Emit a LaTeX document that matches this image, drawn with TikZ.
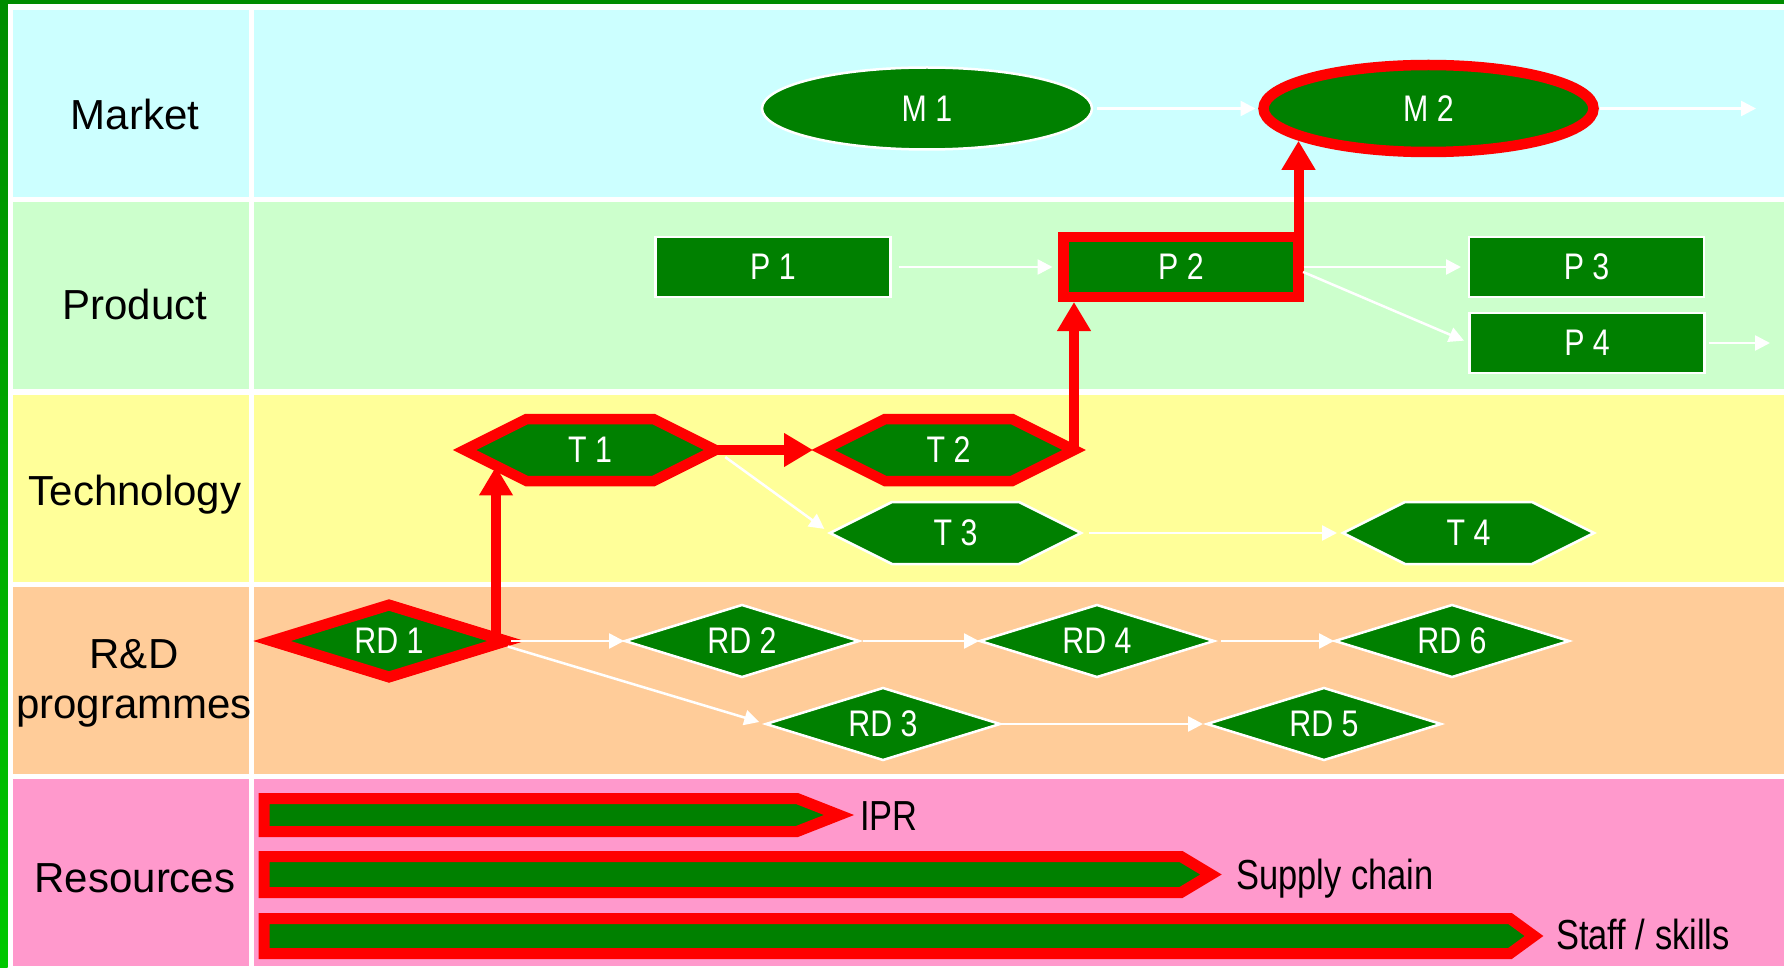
\documentclass[tikz,border=0pt]{standalone}
\usepackage{fontspec}
\setmainfont{Liberation Sans}
\newfontfamily\narrowfont[FakeStretch=0.82]{Liberation Sans}
\usetikzlibrary{shapes.geometric,arrows.meta,calc}
\definecolor{cyanbg}{HTML}{CCFFFF}
\definecolor{prodbg}{HTML}{CCFFCC}
\definecolor{techbg}{HTML}{FFFF99}
\definecolor{rdbg}{HTML}{FFCC99}
\definecolor{resbg}{HTML}{FF99CC}
\definecolor{ngreen}{HTML}{008000}
\definecolor{frameA}{HTML}{008C00}
\definecolor{frameB}{HTML}{00C800}
\newcommand{\mynfont}{\narrowfont\fontsize{37}{40}\selectfont}
\newcommand{\myrdfont}{\narrowfont\fontsize{37}{40}\selectfont}
\newcommand{\mylfont}{\fontsize{42}{50}\selectfont}
\newcommand{\myresfont}{\narrowfont\fontsize{42}{48}\selectfont}
\pgfdeclarelayer{cells}
\pgfdeclarelayer{shapes}
\pgfsetlayers{cells,shapes,main}
\begin{document}
\begin{tikzpicture}[x=1pt,y=-1pt,
  nd/.style={text=white, font=\mynfont, inner sep=0pt, outer sep=0pt},
  wbord/.style={draw=white, line width=2.5pt, fill=ngreen},
  rbord/.style={draw=red, line width=10.5pt, fill=ngreen, line join=miter},
  ell/.style={nd, ellipse, minimum width=330pt},
  pbox/.style={nd, rectangle, minimum width=235pt, minimum height=60pt},
  hexbox/.style={nd, rectangle, minimum width=251pt, minimum height=62pt},
  rdbox/.style={nd, diamond, aspect=3.2, minimum width=234pt, minimum height=72pt, font=\myrdfont},
  warrow/.style={draw=white, line width=2.5pt, -{Triangle[length=15pt,width=15pt]}},
  rarrow/.style={draw=red, line width=10pt, -{Triangle[length=29pt,width=32pt]}},
  collabel/.style={font=\mylfont, inner sep=0pt, anchor=base},
  reslabel/.style={font=\myresfont, inner sep=0pt, anchor=base west},
  resbar/.style={draw=red, line width=11pt, fill=ngreen, line join=miter},
]
\useasboundingbox (0,0) rectangle (1784,968);

% ---------- background grid ----------
\begin{pgfonlayer}{cells}
  \fill[white] (0,0) rectangle (1784,968);
  \foreach \t/\c in {10/cyanbg,202/prodbg,395/techbg,587/rdbg,779/resbg}{
    \fill[\c] (13,\t) rectangle (249,\t+187);
    \fill[\c] (254,\t) rectangle (1784,\t+187);
  }
  \fill[frameA] (0,0) rectangle (1784,4);
  \shade[top color=frameA, bottom color=frameB] (0,0) rectangle (7.5,968);
\end{pgfonlayer}

% ---------- row labels ----------
\node[collabel] (lmarket) at (135,130) {Market};
\node[collabel] (lproduct) at (135,319) {Product};
\node[collabel] (ltech) at (135,505) {Technology};
\node[font=\mylfont, inner sep=0pt, anchor=north, align=center] (lrd) at (134,639.5) {R\&D\\programmes};
\node[collabel] (lres) at (135,892) {Resources};

% ---------- market ----------
\node[ell, wbord, minimum height=82pt] (m1) at (927,108.5) {M 1};
\node[ell, rbord, minimum height=87pt] (m2) at (1428.5,108.5) {M 2};
\coordinate (mout) at (1756,108.5);

% ---------- product ----------
\node[pbox, wbord] (p1) at (773,267) {P 1};
\node[pbox, rbord] (p2) at (1181,267) {P 2};
\node[pbox, wbord] (p3) at (1586.5,267) {P 3};
\node[pbox, wbord] (p4) at (1587,343) {P 4};
\coordinate (pout) at (1770,343);

% ---------- technology ----------
\node[hexbox] (t1) at (590,450) {T 1};
\node[hexbox] (t2) at (948.5,450) {T 2};
\node[hexbox] (t3) at (955.5,533) {T 3};
\node[hexbox] (t4) at (1468.5,533) {T 4};
\begin{pgfonlayer}{shapes}
  \foreach \n/\s in {t1/rbord,t2/rbord,t3/wbord,t4/wbord}{
    \draw[\s, line join=miter] (\n.west) -- ([xshift=62pt]\n.north west) -- ([xshift=-62pt]\n.north east)
      -- (\n.east) -- ([xshift=-62pt]\n.south east) -- ([xshift=62pt]\n.south west) -- cycle;
  }
\end{pgfonlayer}
\coordinate (t1sw) at ([xshift=62pt]t1.south west);
\coordinate (t1hit) at ($(t1.west)!0.53!(t1sw)$);

% ---------- R&D ----------
\node[rdbox, draw=red, line width=11pt, fill=ngreen, line join=miter] (rd1) at (389,641) {RD 1};
\node[rdbox, wbord] (rd2) at (742,641) {RD 2};
\node[rdbox, wbord] (rd4) at (1097,641) {RD 4};
\node[rdbox, wbord] (rd6) at (1452,641) {RD 6};
\node[rdbox, wbord] (rd3) at (883,724) {RD 3};
\node[rdbox, wbord] (rd5) at (1324,724) {RD 5};

% ---------- white connectors ----------
\draw[warrow, shorten <=5pt, shorten >=8pt] (m1.east) -- (m2.west);
\draw[warrow, shorten <=6pt] (m2.east) -- (mout);
\draw[warrow, shorten <=8pt, shorten >=11pt] (p1.east) -- (p2.west);
\draw[warrow, shorten <=5pt, shorten >=8pt] (p2.east) -- (p3.west);
\draw[warrow, shorten <=5pt, shorten >=6pt] ([yshift=-3pt]p2.east) -- (p4.west);
\draw[warrow, shorten <=4pt] (p4.east) -- (pout);
\draw[warrow, shorten <=12pt, shorten >=7pt] (t1.east) -- (t3.west);
\draw[warrow, shorten <=8pt, shorten >=6pt] (t3.east) -- (t4.west);
\draw[warrow, shorten <=5pt, shorten >=1pt] (rd1.east) -- (rd2.west);
\draw[warrow, shorten <=2pt, shorten >=7pt] ([yshift=-5pt]rd1.east) -- (rd3.west);
\draw[warrow, shorten <=4pt, shorten >=1pt] (rd2.east) -- (rd4.west);
\draw[warrow, shorten <=7pt, shorten >=1pt] (rd4.east) -- (rd6.west);
\draw[warrow, shorten <=2pt, shorten >=4pt] (rd3.east) -- (rd5.west);

% ---------- red critical path ----------
\draw[rarrow] ([xshift=-10pt]rd1.east) -- ([xshift=-10pt]rd1.east |- t1hit);
\draw[rarrow, shorten >=10pt] (t1.east) -- (t2.west);
\draw[rarrow, shorten >=5pt] (t2.east) -- (t2.east |- p2.south);
\draw[rarrow, shorten >=5pt] (p2.north east) -- (p2.north east |- m2.192);

% ---------- resources ----------
\draw[resbar] (264,798.5) -- (797,798.5) -- (839,815) -- (797,831.5) -- (264,831.5) -- cycle;
\draw[resbar] (264,856.5) -- (1181,856.5) -- (1211,874.5) -- (1181,892.5) -- (264,892.5) -- cycle;
\draw[resbar] (264,918.5) -- (1510,918.5) -- (1534,936) -- (1510,953.5) -- (264,953.5) -- cycle;
\node[reslabel] (ipr) at (860,830) {IPR};
\node[reslabel] (supply) at (1236,889) {Supply chain};
\node[reslabel] (staff) at (1556,949) {Staff / skills};
\end{tikzpicture}
\end{document}
